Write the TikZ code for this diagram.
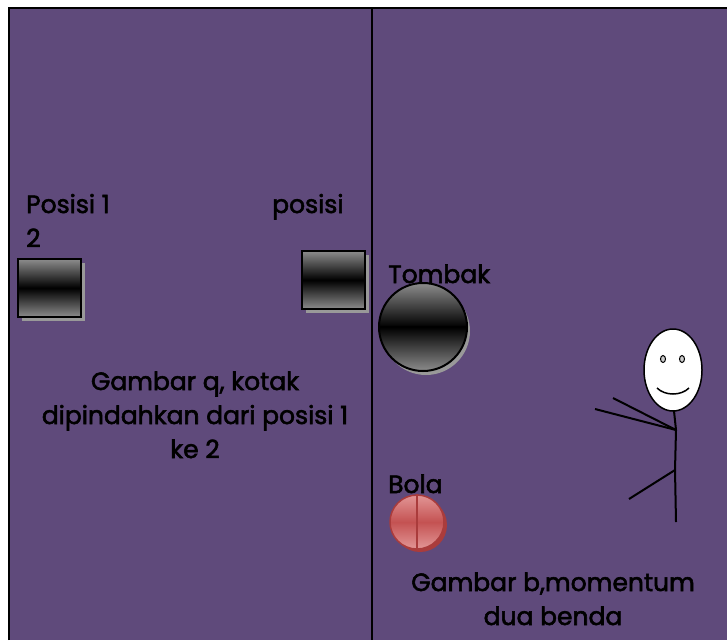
\documentclass[tikz,border=0pt]{standalone}
\usepackage{fontspec}
\setmainfont{Poppins}[FakeBold=2.2]
\usetikzlibrary{shadows}

\definecolor{ungu}{RGB}{95,74,123}
\definecolor{bolamuda}{RGB}{226,150,150}
\definecolor{bolatua}{RGB}{196,82,82}
\definecolor{bolagaris}{RGB}{170,60,60}

\tikzset{
	kotak/.style={draw=black,line width=2pt,minimum width=63pt,minimum height=58pt,
		top color=gray!90,bottom color=gray!90,middle color=black,
		drop shadow={shadow xshift=4pt,shadow yshift=-4pt,fill=gray!80,opacity=1}},
	label/.style={font=\fontsize{25}{34}\selectfont,text=black,inner sep=0pt},
	garis/.style={line width=2pt,black}
}

\begin{document}
\begin{tikzpicture}[x=1pt,y=-1pt]
				\useasboundingbox (0,0) rectangle (727,640);
				% latar dua panel
				\fill[ungu] (9,8) rectangle (727,640);
				\draw[garis] (9,640) -- (9,8) -- (727,8);
				\draw[garis] (372,8) -- (372,640);
				% panel kiri: kotak dipindahkan
				\node[label,anchor=base west] (pos1) at (26,213) {Posisi 1};
				\node[label,anchor=base west] (pos2) at (272,213) {posisi};
				\node[label,anchor=base west] (dua) at (26,247) {2};
				\node[kotak] (kotak1) at (49,288) {};
				\node[kotak] (kotak2) at (333,280) {};
				\node[label,align=center,anchor=base] (ketA) at (195,458) {Gambar q, kotak\\dipindahkan dari posisi 1\\ke 2};
				% panel kanan: tombak dan bola
				\node[label,anchor=base west] (ltombak) at (388,283) {Tombak};
				\node[circle,draw=black,line width=2pt,minimum size=88pt,
					top color=gray!90,bottom color=gray!90,middle color=black,
					drop shadow={shadow xshift=3pt,shadow yshift=-4pt,fill=gray!80,opacity=1}] (tombak) at (423,327) {};
				\draw[black,line width=1.5pt] (tombak.west) -- (tombak.east);
				\node[label,anchor=base west] (lbola) at (388,493) {Bola};
				\node[circle,draw=bolagaris,line width=1.5pt,minimum size=54pt,
					top color=bolamuda,bottom color=bolamuda,middle color=bolatua,
					drop shadow={shadow xshift=3pt,shadow yshift=-3pt,fill=bolagaris,opacity=1}] (bola) at (417,522) {};
				\draw[bolagaris,line width=1.5pt] (bola.north) -- (bola.south);
				\node[label,align=center,anchor=base] (ketB) at (553,625) {Gambar b,momentum\\dua benda};
				% orang
				\draw[line width=1.5pt,fill=white] (673,370) ellipse (29 and 41);
				\draw[fill=gray!40,line width=1pt] (663,359) ellipse (2.5 and 3.5);
				\draw[fill=gray!40,line width=1pt] (682,359) ellipse (2.5 and 3.5);
				\draw[line width=1.5pt] (657,388) .. controls (665,396) and (681,396) .. (689,388);
				\coordinate (leher) at (674,411);
				\coordinate (bahu) at (676,430);
				\coordinate (pinggul) at (675,470);
				\coordinate (kaki) at (676,522);
				\draw[garis] (leher) -- (bahu) -- (pinggul) -- (kaki);
				\draw[garis] (bahu) -- (613,398);
				\draw[garis] (bahu) -- (595,409);
				\draw[garis] (pinggul) -- (629,499);
			\end{tikzpicture}
\end{document}
